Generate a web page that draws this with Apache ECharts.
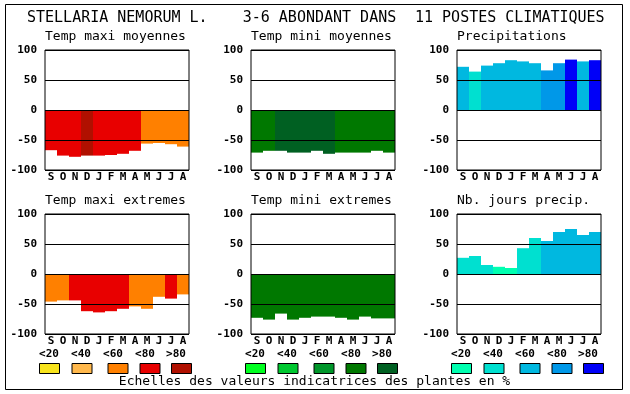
<!DOCTYPE html>
<html><head><meta charset="utf-8">
<script src="https://cdn.jsdelivr.net/npm/echarts@6/dist/echarts.min.js"></script>
<style>html,body{margin:0;padding:0;background:#fff}#c{width:630px;height:394px}</style>
</head><body><div id="c"></div>
<script>
const months = ['S','O','N','D','J','F','M','A','M','J','J','A'];
const yTicks = [-100,-50,0,50,100];
const classLabels = ['<20','<40','<60','<80','>80'];
const redScale = ['#f8e41c','#ffb84c','#ff8000','#e80000','#b01000'];
const greenScale = ['#00ff20','#00c830','#00962a','#007800','#006022'];
const blueScale = ['#00ffb0','#00e0d0','#00b8e0','#0098e8','#0000f8'];

const tmaxMoy = [-67,-76,-78,-76,-76,-75,-73,-68,-56,-55,-57,-61];
const tmaxMoyCls = [3,3,3,4,3,3,3,3,2,2,2,2];
const tminMoy = [-71,-68,-68,-71,-71,-68,-73,-71,-71,-71,-68,-71];
const tminMoyCls = [3,3,4,4,4,4,4,3,3,3,3,3];
const precip = [72,64,74,78,83,81,78,66,78,84,81,83];
const precipCls = [2,1,2,2,2,2,2,3,3,4,2,4];
const tmaxExt = [-46,-44,-44,-62,-64,-62,-58,-54,-58,-38,-41,-34];
const tmaxExtCls = [2,2,3,3,3,3,3,2,2,2,3,2];
const tminExt = [-73,-76,-66,-76,-73,-71,-71,-73,-76,-71,-74,-74];
const tminExtCls = [3,3,3,3,3,3,3,3,3,3,3,3];
const nbJours = [27,30,15,12,10,43,60,55,70,75,65,70];
const nbJoursCls = [1,1,1,0,0,1,1,2,2,2,2,2];

const mainTitle = ['STELLARIA NEMORUM L.','3-6 ABONDANT DANS','11 POSTES CLIMATIQUES'];
const caption = 'Echelles des valeurs indicatrices des plantes en %';

const panels = [
  {title:'Temp maxi moyennes', vals:tmaxMoy, cls:tmaxMoyCls, scale:redScale},
  {title:'Temp mini moyennes', vals:tminMoy, cls:tminMoyCls, scale:greenScale},
  {title:'Precipitations', vals:precip, cls:precipCls, scale:blueScale},
  {title:'Temp maxi extremes', vals:tmaxExt, cls:tmaxExtCls, scale:redScale},
  {title:'Temp mini extremes', vals:tminExt, cls:tminExtCls, scale:greenScale},
  {title:'Nb. jours precip.', vals:nbJours, cls:nbJoursCls, scale:blueScale}
];

const MONO = '"DejaVu Sans Mono", "Liberation Mono", monospace';
const lefts = [45, 251, 457];
const tops = [50, 214];
const W = 144, H = 120;

const grid = [], xAxis = [], yAxis = [], series = [], graphic = [];
panels.forEach((p, i) => {
  const col = i % 3, row = Math.floor(i / 3);
  const L = lefts[col], T = tops[row];
  grid.push({left:L, top:T, width:W, height:H, show:true, borderColor:'#000', borderWidth:1, backgroundColor:'transparent', z:10});
  xAxis.push({type:'category', gridIndex:i, data:months,
    axisLine:{show:false}, axisTick:{show:false},
    axisLabel:{interval:0, margin:2, color:'#000', fontFamily:MONO, fontWeight:'bold', fontSize:11},
    splitLine:{show:false}});
  yAxis.push({type:'value', gridIndex:i, min:-100, max:100, interval:50, z:5,
    axisLine:{show:false}, axisTick:{show:false},
    axisLabel:{margin:8, color:'#000', fontFamily:MONO, fontWeight:'bold', fontSize:11},
    splitLine:{show:true, lineStyle:{color:'#000', width:1}}});
  series.push({type:'bar', xAxisIndex:i, yAxisIndex:i, barCategoryGap:'0%', barGap:'0%',
    animation:false, silent:true,
    data:p.vals.map((v, k) => ({value:v, itemStyle:{color:p.scale[p.cls[k]]}}))});
  graphic.push({type:'text', left:L, top:(row === 0 ? 38 : 202) - 8,
    style:{text:p.title, font:'13px ' + MONO, fill:'#000'}});
});

// legends under bottom row
const boxOff = [-6, 26.5, 62.5, 94.5, 126];
const labOff = [4, 36, 68, 100, 131];
[redScale, greenScale, blueScale].forEach((sc, c) => {
  const L = lefts[c];
  sc.forEach((color, k) => {
    graphic.push({type:'rect', shape:{x:L + boxOff[k] + 0.5, y:363.5, width:20, height:10},
      style:{fill:color, stroke:'#000', lineWidth:1}});
    graphic.push({type:'text', x:L + labOff[k], y:354,
      style:{text:classLabels[k], font:'bold 11px ' + MONO, fill:'#000', align:'center', verticalAlign:'middle'}});
  });
});

// outer frame
graphic.push({type:'rect', shape:{x:5.5, y:4.5, width:617, height:385}, style:{fill:null, stroke:'#000', lineWidth:1}, z:-1});
// titles
const titleX = [27, 242.7, 415];
mainTitle.forEach((t, k) => {
  graphic.push({type:'text', x:titleX[k], y:18,
    style:{text:t, font:'15px ' + MONO, fill:'#000', verticalAlign:'middle'}});
});
graphic.push({type:'text', x:314.5, y:382,
  style:{text:caption, font:'13px ' + MONO, fill:'#000', align:'center', verticalAlign:'middle'}});

const chart = echarts.init(document.getElementById('c'), null, {renderer:'canvas'});
chart.setOption({animation:false, backgroundColor:'#fff', grid, xAxis, yAxis, series, graphic});
</script>
</body></html>
